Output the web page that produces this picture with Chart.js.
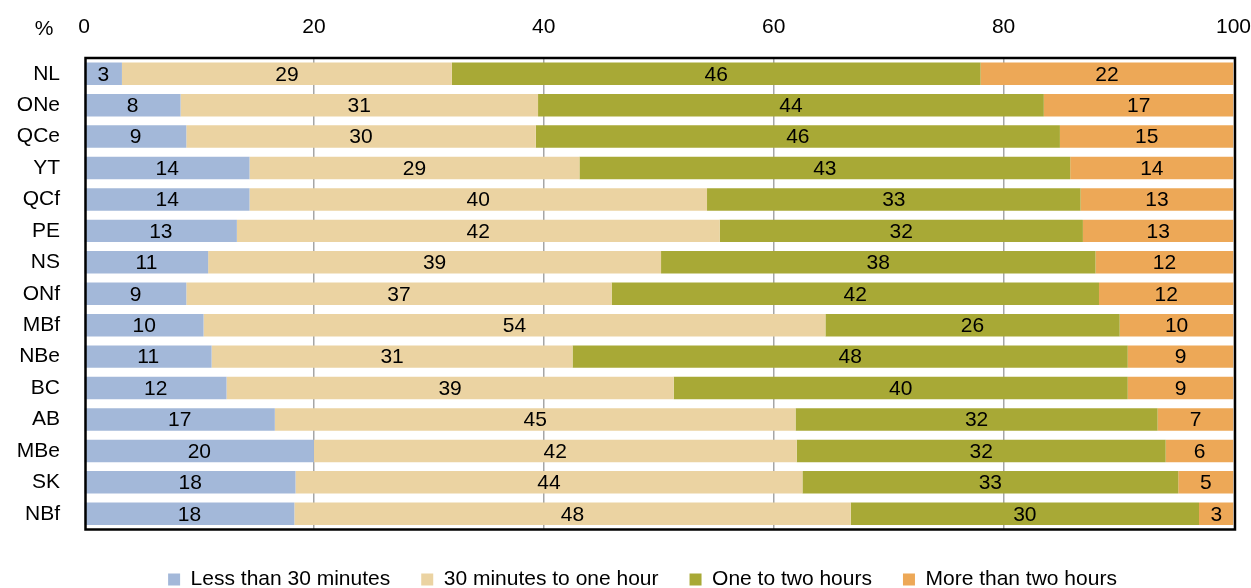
<!DOCTYPE html>
<html>
<head>
<meta charset="utf-8">
<script src="https://cdn.jsdelivr.net/npm/chart.js@4/dist/chart.umd.min.js"></script>
<style>
  html, body { margin: 0; padding: 0; background: #ffffff; overflow: hidden; }
  #wrap { width: 1251px; height: 588px; overflow: hidden; position: relative; }
  canvas { display: block; }
</style>
</head>
<body>
<div id="wrap"><canvas id="c" width="1251" height="600"></canvas></div>
<script>
// ---- data ----
const categories = ['NL', 'ONe', 'QCe', 'YT', 'QCf', 'PE', 'NS', 'ONf', 'MBf', 'NBe', 'BC', 'AB', 'MBe', 'SK', 'NBf'];
const seriesNames = ['Less than 30 minutes', '30 minutes to one hour', 'One to two hours', 'More than two hours'];
const lessThan30 = [3.3, 8.4, 8.9, 14.4, 14.4, 13.3, 10.8, 8.9, 10.4, 11.1, 12.4, 16.6, 20.0, 18.4, 18.3];
const min30to1h  = [28.7, 31.1, 30.4, 28.7, 39.8, 42.0, 39.4, 37.0, 54.1, 31.4, 38.9, 45.3, 42.0, 44.1, 48.4];
const oneTo2h    = [46.0, 44.0, 45.6, 42.7, 32.5, 31.6, 37.8, 42.4, 25.6, 48.3, 39.5, 31.5, 32.1, 32.7, 30.3];
const moreThan2h = [22.0, 16.5, 15.1, 14.2, 13.3, 13.1, 12.0, 11.7, 9.9, 9.2, 9.2, 6.6, 5.9, 4.8, 3.0];
const xTicks = [0, 20, 40, 60, 80, 100];
const unitLabel = '%';

const colors = ['#a3b8d9', '#ebd3a2', '#a8a936', '#eda857'];
const FONT = "'Liberation Sans', Arial, Helvetica, sans-serif";

const seriesData = [lessThan30, min30to1h, oneTo2h, moreThan2h];

const datasets = seriesData.map((d, i) => ({
  label: seriesNames[i],
  data: d,
  backgroundColor: colors[i],
  borderWidth: 0,
  barPercentage: 0.715,
  categoryPercentage: 1.0
}));

const valueLabels = {
  id: 'valueLabels',
  afterDatasetsDraw(chart) {
    const ctx = chart.ctx;
    ctx.save();
    ctx.font = '21px ' + FONT;
    ctx.fillStyle = '#000000';
    ctx.textAlign = 'center';
    ctx.textBaseline = 'middle';
    chart.data.datasets.forEach((ds, di) => {
      const meta = chart.getDatasetMeta(di);
      meta.data.forEach((el, i) => {
        const v = ds.data[i];
        const cx = (el.x + el.base) / 2;
        ctx.fillText(String(Math.round(v)), cx, el.y + 1);
      });
    });
    ctx.restore();
  }
};

const frameAndUnit = {
  id: 'frameAndUnit',
  afterDraw(chart) {
    const ctx = chart.ctx;
    const a = chart.chartArea;
    ctx.save();
    ctx.strokeStyle = '#000000';
    ctx.lineWidth = 2.5;
    ctx.strokeRect(a.left + 1.5, a.top, a.right - a.left, a.bottom - a.top);
    ctx.font = '21px ' + FONT;
    ctx.fillStyle = '#000000';
    ctx.textAlign = 'center';
    ctx.textBaseline = 'middle';
    ctx.fillText(unitLabel, 44, 29);
    ctx.restore();
  }
};

const legendShift = {
  id: 'legendShift',
  afterLayout(chart) {
    const lg = chart.legend;
    if (lg) { lg.left += 17; lg.right += 17; }
  }
};

new Chart(document.getElementById('c'), {
  type: 'bar',
  data: { labels: categories, datasets },
  plugins: [valueLabels, frameAndUnit, legendShift],
  options: {
    indexAxis: 'y',
    responsive: false,
    animation: false,
    devicePixelRatio: 1,
    layout: { padding: { left: 0, right: 0, top: 0, bottom: 0 } },
    scales: {
      x: {
        position: 'top',
        stacked: true,
        min: 0,
        max: 100,
        afterBuildTicks(scale) { scale.ticks = xTicks.map(v => ({ value: v })); },
        afterFit(scale) { scale.height = 58; },
        ticks: {
          stepSize: 20,
          padding: 0,
          color: '#000000',
          font: { size: 21, family: FONT }
        },
        grid: {
          drawTicks: true,
          tickLength: 18,
          tickColor: 'rgba(0,0,0,0)',
          color: (c) => (c.tick && (c.tick.value === 0 || c.tick.value === 100)) ? 'rgba(0,0,0,0)' : '#a6a6a6',
          lineWidth: 1.5
        },
        border: { display: false }
      },
      y: {
        stacked: true,
        afterFit(scale) { scale.width = 84; },
        ticks: {
          padding: 24,
          color: '#000000',
          font: { size: 21, family: FONT }
        },
        grid: { display: false, drawTicks: false },
        border: { display: false }
      }
    },
    plugins: {
      legend: {
        position: 'bottom',
        title: { display: true, text: '', font: { size: 5 }, padding: { top: 2.5, bottom: 0 } },
        labels: {
          boxWidth: 12,
          boxHeight: 12,
          padding: 31,
          color: '#000000',
          font: { size: 21, family: FONT }
        }
      },
      tooltip: { enabled: false }
    }
  }
});
</script>
</body>
</html>
